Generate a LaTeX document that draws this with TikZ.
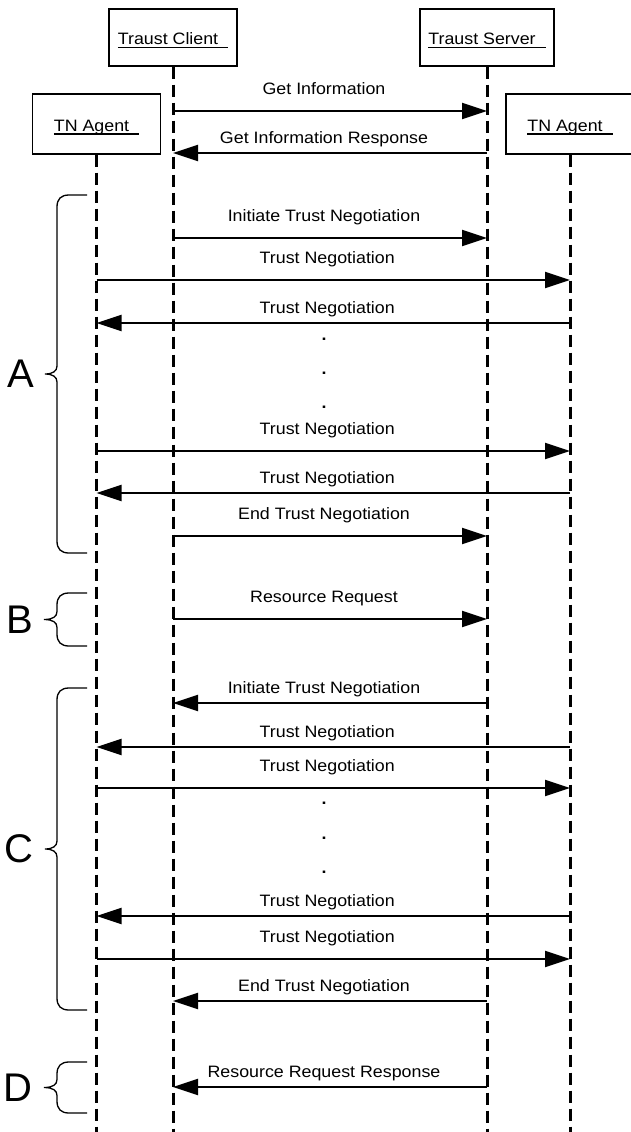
\documentclass[tikz,border=0pt]{standalone}
\usepackage{fontspec}
\setmainfont{Liberation Sans}[FakeStretch=1.08]
\newfontfamily\grpfont{Liberation Sans}
\usetikzlibrary{arrows.meta,positioning}
\newcommand\ulbox[1]{\setbox0\hbox{#1}\rlap{\rule[-3pt]{\wd0}{1.3pt}}\box0}

\begin{document}
\begin{tikzpicture}[x=1pt, y=-1pt,
  actor/.style={draw, line width=1.3pt, minimum width=128pt, minimum height=57pt, inner sep=0pt, text height=15pt, text depth=0pt},
  life/.style={line width=3pt, dash pattern=on 12pt off 6pt},
  msg/.style={line width=2pt, -{Triangle[length=25pt, width=16pt]}},
  lblr/.style={anchor=base, xshift=-6pt, yshift=17pt},
  lbll/.style={anchor=base, xshift=-6pt, yshift=10pt},
  dotmark/.style={font=\fontsize{16.5}{20}\selectfont\bfseries},
  grp/.style={font=\grpfont\fontsize{40}{48}\selectfont, inner sep=0pt},
  brace/.style={line width=1.3pt}]
\tikzstyle{every node}=[font=\fontsize{16.5}{20}\selectfont]
\useasboundingbox (0,0) rectangle (631,1132);
   \node[actor](tc) at (173,37.5){\ulbox{Traust Client\ \ }};
   \node[actor, minimum width=134pt](ts) at (487,37.5){\ulbox{Traust Server\ \ }};
   \node[actor, minimum height=60pt](tal) at (96.5,124){\ulbox{TN Agent\ \ }};
   \node[actor, minimum height=60pt](tar) at (570,124){\ulbox{TN Agent\ \ }};
   \coordinate (tcend) at (tc |- 0,1132);
   \coordinate (tsend) at (ts |- 0,1132);
   \coordinate (talend) at (tal |- 0,1132);
   \coordinate (tarend) at (tar |- 0,1132);
   \draw[life] (tc) -- (tcend);
   \draw[life] (ts) -- (tsend);
   \draw[life] (tal) -- (talend);
   \draw[life] (tar) -- (tarend);

   \path[msg](tc |- 0,111) edge node[lblr] {Get Information}(ts |- 0,111);
   \path[msg](ts |- 0,153) edge node[lbll] {Get Information Response}(tc |- 0,153);
   \path[msg](tc |- 0,238) edge node[lblr] {Initiate Trust Negotiation}(ts |- 0,238);
   \path[msg](tal |- 0,280) edge node[lblr] {Trust Negotiation}(tar |- 0,280);
   \path[msg](tar |- 0,323) edge node[lbll] {Trust Negotiation}(tal |- 0,323);
\node[dotmark] (dotA1) at (324,339) {.};
\node[dotmark] (dotA2) at (324,373) {.};
\node[dotmark] (dotA3) at (324,407) {.};
   \path[msg](tal |- 0,451) edge node[lblr] {Trust Negotiation}(tar |- 0,451);
   \path[msg](tar |- 0,493) edge node[lbll] {Trust Negotiation}(tal |- 0,493);
   \path[msg](tc |- 0,536) edge node[lblr] {End Trust Negotiation}(ts |- 0,536);
   \path[msg](tc |- 0,619) edge node[lblr] {Resource Request}(ts |- 0,619);
   \path[msg](ts |- 0,703) edge node[lbll] {Initiate Trust Negotiation}(tc |- 0,703);
   \path[msg](tar |- 0,747) edge node[lbll] {Trust Negotiation}(tal |- 0,747);
   \path[msg](tal |- 0,788) edge node[lblr] {Trust Negotiation}(tar |- 0,788);
\node[dotmark] (dotC1) at (324,803) {.};
\node[dotmark] (dotC2) at (324,838) {.};
\node[dotmark] (dotC3) at (324,872) {.};
   \path[msg](tar |- 0,916) edge node[lbll] {Trust Negotiation}(tal |- 0,916);
   \path[msg](tal |- 0,959) edge node[lblr] {Trust Negotiation}(tar |- 0,959);
   \path[msg](ts |- 0,1001) edge node[lbll] {End Trust Negotiation}(tc |- 0,1001);
   \path[msg](ts |- 0,1087) edge node[lbll] {Resource Request Response}(tc |- 0,1087);

% group braces
\coordinate (tipA) at (45,374);
\coordinate (tipB) at (44,619.5);
\coordinate (tipC) at (45,849);
\coordinate (tipD) at (44,1087.5);
\draw[brace] (87,195) -- (69,195) .. controls (61,195) and (57,199) .. (57,207) -- (57,366) .. controls (57,371) and (53,374) .. (tipA) .. controls (53,374) and (57,377) .. (57,382) -- (57,541) .. controls (57,549) and (61,553) .. (69,553) -- (87,553);
\draw[brace] (87,593) -- (69,593) .. controls (61,593) and (57,597) .. (57,605) -- (57,611.5) .. controls (57,616.5) and (53,619.5) .. (tipB) .. controls (53,619.5) and (57,622.5) .. (57,627.5) -- (57,634) .. controls (57,642) and (61,646) .. (69,646) -- (87,646);
\draw[brace] (87,688) -- (69,688) .. controls (61,688) and (57,692) .. (57,700) -- (57,841) .. controls (57,846) and (53,849) .. (tipC) .. controls (53,849) and (57,852) .. (57,857) -- (57,998) .. controls (57,1006) and (61,1010) .. (69,1010) -- (87,1010);
\draw[brace] (87,1062) -- (69,1062) .. controls (61,1062) and (57,1066) .. (57,1074) -- (57,1079.5) .. controls (57,1084.5) and (53,1087.5) .. (tipD) .. controls (53,1087.5) and (57,1090.5) .. (57,1095.5) -- (57,1101) .. controls (57,1109) and (61,1113) .. (69,1113) -- (87,1113);
\node[grp, left=11pt of tipA](grpA){A};
\node[grp, left=11pt of tipB](grpB){B};
\node[grp, left=11pt of tipC](grpC){C};
\node[grp, left=11pt of tipD](grpD){D};
 \end{tikzpicture}
\end{document}
